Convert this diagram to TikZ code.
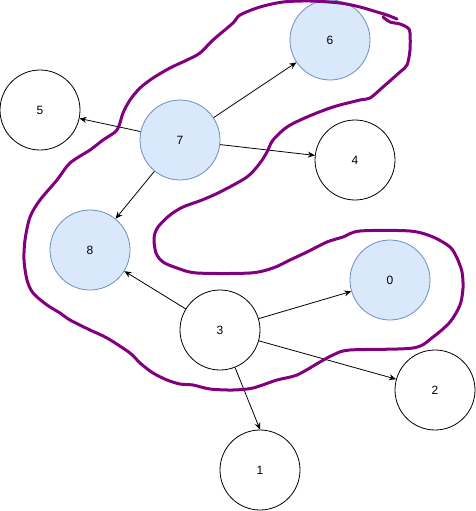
\documentclass[tikz,border=0pt]{standalone}
\usepackage{fontspec}
\setmainfont{Liberation Sans}
\usetikzlibrary{arrows.meta}
\definecolor{NodeFill}{HTML}{DAE8FC}
\definecolor{NodeLine}{HTML}{6C8EBF}
\definecolor{Loop}{HTML}{800080}

\begin{document}
\begin{tikzpicture}[x=1pt,y=-1pt,font=\fontsize{12}{14}\selectfont,vertex/.style={circle, draw=black, fill=white, line width=0.8pt, minimum size=80pt, inner sep=0pt},marked/.style={vertex, draw=NodeLine, fill=NodeFill},link/.style={-{Stealth[length=7pt,width=6pt]}, line width=0.8pt},lasso/.style={draw=Loop, line width=3pt, line cap=round, line join=round}]
\useasboundingbox (0,0) rectangle (476,511);
\node[marked] (n6) at (330,40) {6};
\node[vertex] (n5) at (40,110) {5};
\node[marked] (n7) at (180,140) {7};
\node[vertex] (n4) at (355,160) {4};
\node[marked] (n8) at (90,250) {8};
\node[marked] (n0) at (390,280) {0};
\node[vertex] (n3) at (220,330) {3};
\node[vertex] (n2) at (435,390) {2};
\node[vertex] (n1) at (260,470) {1};
\draw[link] (n7) -- (n6);
\draw[link] (n7) -- (n5);
\draw[link] (n7) -- (n4);
\draw[link] (n7) -- (n8);
\draw[link] (n3) -- (n8);
\draw[link] (n3) -- (n0);
\draw[link] (n3) -- (n2);
\draw[link] (n3) -- (n1.north);
\draw[lasso] plot[smooth, tension=0.5] coordinates {(397,19) (387,15) (377,12) (360,7) (340,3) (310,1) (283,2) (260,7) (240,15) (233,23) (213,40) (200,53) (187,60) (170,68) (153,78) (140,88) (130,100) (123,113) (117,130) (103,140) (90,150) (70,163) (57,180) (40,200) (30,217) (25,240) (24,260) (27,280) (33,293) (47,305) (60,313) (70,320) (90,330) (107,338) (130,353) (140,363) (153,373) (167,380) (180,384) (193,385) (210,389) (233,390) (253,388) (277,380) (297,375) (320,362) (333,355) (350,350) (413,348) (433,337) (450,322) (460,305) (463,288) (462,272) (457,258) (450,247) (433,237) (410,231) (360,231) (343,237) (327,242) (307,252) (290,260) (273,268) (250,273) (197,273) (177,268) (163,262) (156,253) (154,238) (158,227) (170,215) (183,207) (202,200) (220,192) (247,177) (260,163) (267,152) (273,140) (287,127) (307,117) (333,107) (360,100) (370,98) (383,87) (400,72) (407,65) (410,50) (410,33) (408,28) (400,24) (390,22) (383,17)};
\end{tikzpicture}
\end{document}
